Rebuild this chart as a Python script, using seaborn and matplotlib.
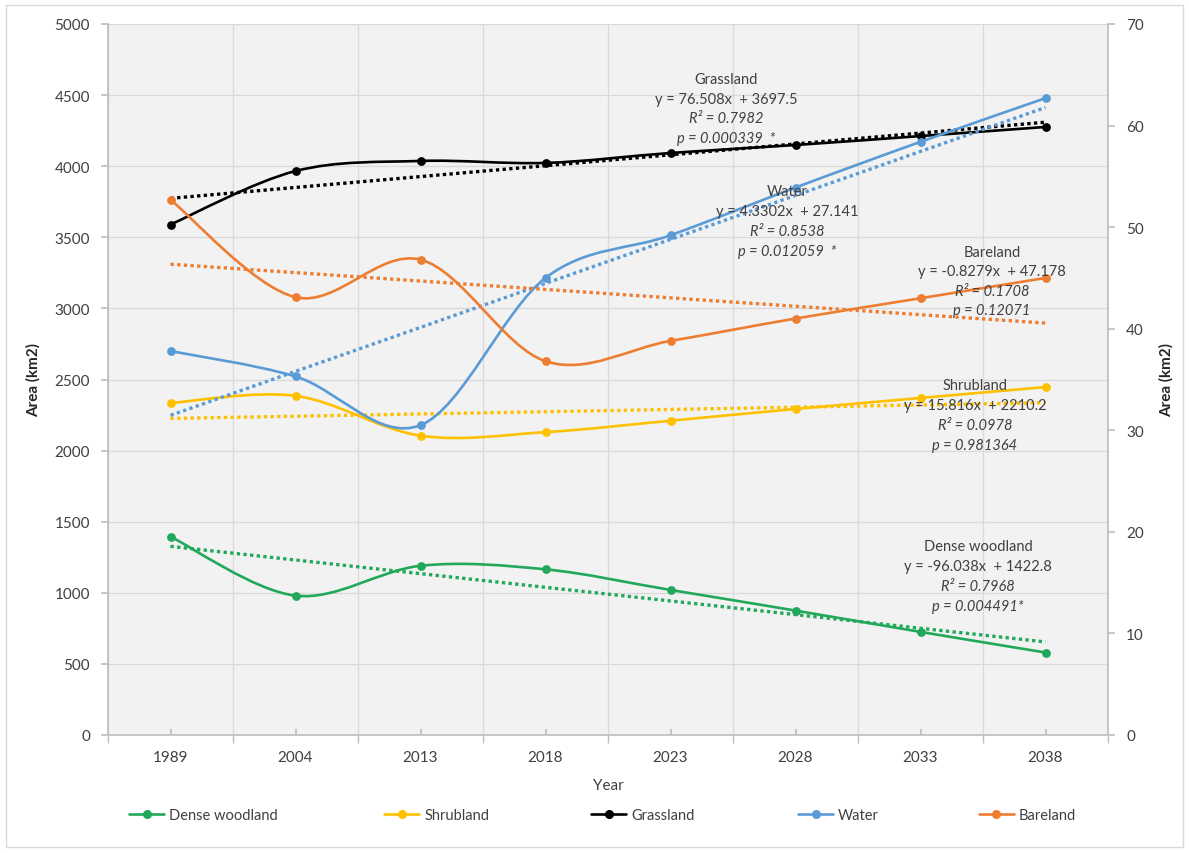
import numpy as np
import matplotlib
matplotlib.use("Agg")
import matplotlib.pyplot as plt
from matplotlib.path import Path
from matplotlib.patches import PathPatch, Rectangle
from matplotlib.lines import Line2D
from matplotlib.ticker import FixedLocator, MultipleLocator
import seaborn as sns

# ---- data -------------------------------------------------------------
years = ["1989", "2004", "2013", "2018", "2023", "2028", "2033", "2038"]

dense_woodland = [1395, 980, 1190, 1165, 1020, 875, 725, 580]
shrubland = [2335, 2385, 2105, 2130, 2210, 2293, 2370, 2447]
grassland = [3590, 3966, 4037, 4023, 4093, 4149, 4212, 4276]
water = [37.8, 35.3, 30.5, 45.0, 49.2, 53.9, 58.4, 62.7]       # secondary axis
bareland = [52.7, 43.1, 46.8, 36.8, 38.8, 41.0, 43.0, 45.0]    # secondary axis

series_names = ["Dense woodland", "Shrubland", "Grassland", "Water", "Bareland"]
trend_slope = [-96.038, 15.816, 76.508, 4.3302, -0.8279]
trend_intercept = [1422.8, 2210.2, 3697.5, 27.141, 47.178]
trend_r2 = ["0.7968", "0.0978", "0.7982", "0.8538", "0.1708"]
trend_p = ["0.004491*", "0.981364", "0.000339  *", "0.012059  *", "0.12071"]

# ---- style ------------------------------------------------------------
sns.set_theme(style="white")
plt.rcParams["font.family"] = ["Lato", "DejaVu Sans"]

colors = ["#22A85A", "#FFC000", "#000000", "#5B9BD5", "#ED7D31"]
values = [dense_woodland, shrubland, grassland, water, bareland]
on_right = [False, False, False, True, True]

W, H = 1189, 854
fig = plt.figure(figsize=(W / 100, H / 100), dpi=100)
ax = fig.add_axes([108 / W, 1 - 736 / H, 1000 / W, 711 / H])
ax2 = ax.twinx()

ax.set_facecolor("#f2f2f2")
ax2.patch.set_visible(False)
ax.set_zorder(0)
ax2.set_zorder(1)

xpos = np.arange(len(years))


def smooth_path(xs, ys):
    """Cardinal (Catmull-Rom) Bezier path through the given points."""
    pts = np.column_stack([xs, ys]).astype(float)
    n = len(pts)
    verts = [pts[0]]
    codes = [Path.MOVETO]
    for i in range(n - 1):
        p0 = pts[max(i - 1, 0)]
        p1 = pts[i]
        p2 = pts[i + 1]
        p3 = pts[min(i + 2, n - 1)]
        verts += [p1 + (p2 - p0) / 6.0, p2 - (p3 - p1) / 6.0, p2]
        codes += [Path.CURVE4] * 3
    return Path(verts, codes)


for name, vals, col, right, m, b in zip(series_names, values, colors, on_right,
                                        trend_slope, trend_intercept):
    target = ax2 if right else ax
    # smoothed series line
    target.add_patch(PathPatch(smooth_path(xpos, vals), facecolor="none",
                               edgecolor=col, lw=1.9, zorder=3))
    # markers
    sns.scatterplot(x=xpos, y=vals, ax=target, color=col, s=40,
                    edgecolor=col, linewidth=0, zorder=4, legend=False)
    # linear trend line
    trend = [m * (i + 1) + b for i in xpos]
    sns.lineplot(x=xpos, y=trend, ax=target, color=col, lw=2.4,
                 linestyle=(0, (1, 1.0)), zorder=3, legend=False)

# ---- axes -------------------------------------------------------------
ax.set_xlim(-0.5, len(years) - 0.5)
ax.set_ylim(0, 5000)
ax2.set_ylim(0, 70)
ax.yaxis.set_major_locator(MultipleLocator(500))
ax2.yaxis.set_major_locator(MultipleLocator(10))

ax.set_xticks(xpos)
ax.set_xticklabels(years)
ax.xaxis.set_minor_locator(FixedLocator(np.arange(-0.5, len(years), 1.0)))

grid_col = "#d9d9d9"
ax.grid(True, axis="y", which="major", color=grid_col, lw=0.9)
ax.grid(True, axis="x", which="minor", color=grid_col, lw=0.9)
ax.grid(False, axis="x", which="major")
ax.set_axisbelow(True)

for a in (ax, ax2):
    for s in a.spines.values():
        s.set_visible(False)
ax.spines["left"].set_visible(True)
ax.spines["left"].set_color("#bfbfbf")
ax.spines["bottom"].set_visible(True)
ax.spines["bottom"].set_color("#bfbfbf")
ax2.spines["right"].set_visible(True)
ax2.spines["right"].set_color("#bfbfbf")

lab_col = "#404040"
ax.tick_params(axis="y", which="major", left=True, direction="out", length=5,
               color="#bfbfbf", labelsize=11, labelcolor=lab_col, pad=8)
ax2.tick_params(axis="y", which="major", right=True, direction="out", length=5,
                color="#bfbfbf", labelsize=11, labelcolor=lab_col, pad=8)
ax.tick_params(axis="x", which="major", bottom=True, direction="in", length=4,
               color="#bfbfbf", labelsize=11, labelcolor=lab_col, pad=11)
ax.tick_params(axis="x", which="minor", bottom=True, direction="out", length=6,
               color="#bfbfbf")

ax.set_ylabel("Area (km2)", fontsize=11, fontweight="bold", color="#262626",
              labelpad=10)
ax2.set_ylabel("Area (km2)", fontsize=11, fontweight="bold", color="#262626",
               labelpad=11)
ax.set_xlabel("Year", fontsize=11, color=lab_col, labelpad=10)

# ---- trend annotations ------------------------------------------------
label_pos = [(978, 547), (975, 386), (726, 80), (787, 192), (992, 253)]
line_step = [20, 20, 19.7, 20, 19.3]
for name, m, b, r2, p, (px, py), step in zip(series_names, trend_slope,
                                             trend_intercept, trend_r2,
                                             trend_p, label_pos, line_step):
    sign = "-" if m < 0 else ""
    lines = [
        (name, "normal"),
        (f"y = {sign}{abs(m):g}x  + {b:g}", "normal"),
        (f"R² = {r2}", "italic"),
        (f"p = {p}", "italic"),
    ]
    for k, (txt, style) in enumerate(lines):
        fig.text(px / W, 1 - (py + k * step) / H, txt, ha="center",
                 va="center", fontsize=10.5, style=style, color=lab_col,
                 zorder=10)

# ---- legend (one entry per slot along the bottom) ---------------------
legend_x = [129, 384, 591, 798, 979]
for name, col, lx in zip(series_names, colors, legend_x):
    h = Line2D([0], [0], color=col, lw=1.9, marker="o", markersize=5.5)
    leg = fig.legend([h], [name], loc="center left",
                     bbox_to_anchor=(lx / W, 1 - 816 / H), frameon=False,
                     fontsize=10.5, handlelength=2.4, handletextpad=0.35,
                     borderpad=0, borderaxespad=0, labelcolor=lab_col)

# figure border
fig.patches.append(Rectangle((6 / W, 6 / H), 1177 / W, 842 / H,
                             transform=fig.transFigure, fill=False,
                             edgecolor="#d9d9d9", lw=1.0))

fig.savefig("out.png", dpi=100, facecolor="white")
